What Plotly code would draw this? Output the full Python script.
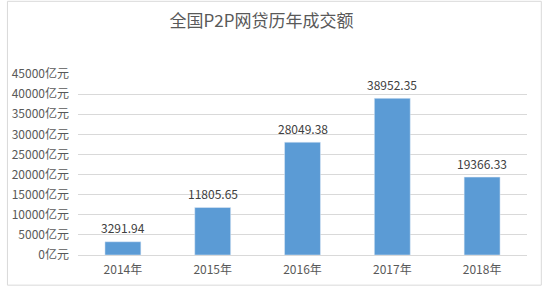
import plotly.graph_objects as go

years = ["2014年", "2015年", "2016年", "2017年", "2018年"]
volumes = [3291.94, 11805.65, 28049.38, 38952.35, 19366.33]
tick_vals = [0, 5000, 10000, 15000, 20000, 25000, 30000, 35000, 40000, 45000]
tick_text = [f"{v}亿元" for v in tick_vals]

FONT = "Microsoft YaHei, Noto Sans CJK SC, sans-serif"

fig = go.Figure()
fig.add_trace(go.Bar(x=years, y=volumes, marker_color="#5b9bd5", width=0.4,
                     hoverinfo="x+y"))

for yr, v in zip(years, volumes):
    fig.add_annotation(x=yr, y=v, text=f"{v:.2f}", showarrow=False,
                       yshift=14, font=dict(family=FONT, size=12, color="#404040"))

W, H = 543, 289
L, R, T, B = 72, 16, 74, 32
pw, ph = W - L - R, H - T - B

def px(x):
    return (x - L) / pw

def py(y):
    return (H - B - y) / ph

fig.add_shape(type="rect", xref="paper", yref="paper",
              x0=px(0.5), x1=px(541.5), y0=py(287.5), y1=py(0.5),
              line=dict(color="#d9d9d9", width=1), layer="below")

fig.update_layout(
    width=W, height=H,
    margin=dict(l=L, r=R, t=T, b=B),
    paper_bgcolor="white", plot_bgcolor="white",
    showlegend=False,
    title=dict(text="全国P2P网贷历年成交额", x=261.5 / W, xref="container", xanchor="center",
               y=1 - 21 / H, yanchor="middle", yref="container",
               font=dict(family=FONT, size=17, color="#595959")),
    font=dict(family=FONT, size=12, color="#595959"),
    xaxis=dict(showgrid=False, showline=False, ticks="", ticklabelstandoff=6,
               tickfont=dict(size=12, color="#595959")),
    yaxis=dict(range=[0, 45000], tickvals=tick_vals, ticktext=tick_text,
               showgrid=True, gridcolor="#d9d9d9", gridwidth=1,
               zeroline=True, zerolinecolor="#d9d9d9", zerolinewidth=1,
               ticks="", ticklabelstandoff=8,
               tickfont=dict(size=12, color="#595959")),
)

fig.write_html("out.html")
